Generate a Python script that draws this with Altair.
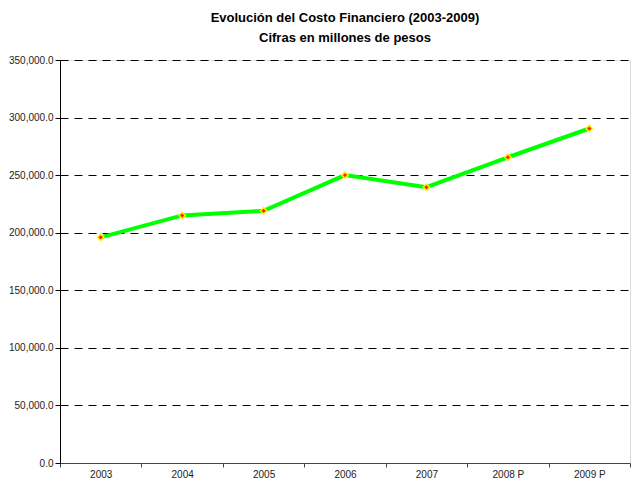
import altair as alt
import pandas as pd

years = ["2003", "2004", "2005", "2006", "2007", "2008 P", "2009 P"]
costo = [196000, 215000, 219000, 250000, 239500, 265500, 290500]

df = pd.DataFrame({"year": years, "costo": costo})

FONT = "Liberation Sans"

x = alt.X("year:N", sort=years, bandPosition=0.5,
          scale=alt.Scale(type="band", paddingInner=0, paddingOuter=0),
          axis=alt.Axis(title=None, labelAngle=0, tickBand="extent", grid=False,
                        domainColor="#444", tickColor="#444", tickSize=4,
                        labelFontSize=10, labelColor="#222", labelFont=FONT,
                        labelPadding=2))
y = alt.Y("costo:Q", scale=alt.Scale(domain=[0, 350000], nice=False),
          axis=alt.Axis(title=None, values=list(range(0, 350001, 50000)), format=",.1f",
                        grid=True, gridColor="#000", gridDash=[8, 6], gridWidth=1,
                        domainColor="#000", tickColor="#000", tickSize=5,
                        labelFontSize=10, labelColor="#222", labelFont=FONT,
                        labelPadding=2))

line = alt.Chart(df).mark_line(color="#00FF00", strokeWidth=4).encode(x=x, y=y)
pts = alt.Chart(df).mark_point(filled=True, shape="diamond", size=40, fill="#FF2200",
                               stroke="#FFEE00", strokeWidth=1.5, opacity=1).encode(x=x, y=y)

chart = (line + pts).properties(
    width=570, height=403,
    title=alt.Title(text=["Evolución del Costo Financiero (2003-2009)",
                          "Cifras en millones de pesos"],
                    font=FONT, fontSize=13, fontWeight="bold",
                    color="#000", lineHeight=20, offset=10, anchor="middle"),
    padding={"left": 0, "top": 4, "right": 0, "bottom": 0},
).configure_view(stroke=None).configure(background="white")

chart.save("out.html", embed_options={"renderer": "svg", "actions": False})
